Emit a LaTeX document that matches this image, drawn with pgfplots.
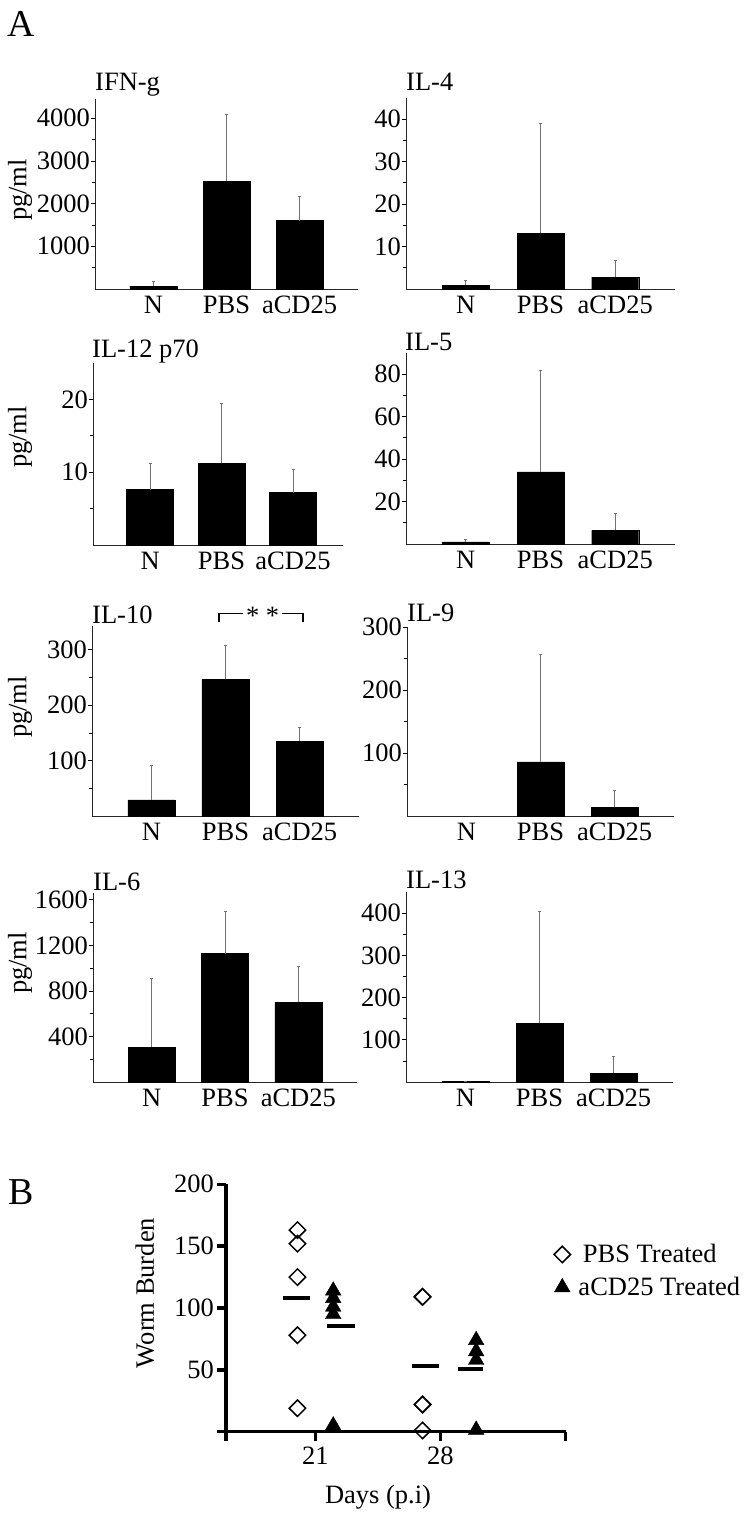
\documentclass[border=0pt]{standalone}
\usepackage{pgfplots}
\pgfplotsset{compat=1.18}
\usepackage{fontspec}
\setmainfont{Liberation Serif}
\pgfplotsset{
  cyto/.style={
    anchor=south west, scale only axis, clip=false,
    axis lines*=left,
    axis line style={line width=0.9pt, black!85},
    xmin=-0.8, xmax=2.8, ymin=0,
    xtick={0,1,2}, xticklabels={N,PBS,aCD25},
    tick align=outside,
    major tick length=4pt, minor tick length=3pt,
    tick style={line width=0.8pt, black},
    major x tick style={draw=none},
    scaled y ticks=false,
    /pgf/number format/assume math mode=true,
    /pgf/number format/1000 sep={},
    yticklabel style={inner xsep=1pt},
    xticklabel style={inner ysep=3pt},
    ybar, bar width=47pt,
  },
  barp/.style={fill=black, draw=black,
    error bars/.cd, y dir=plus, y explicit,
    error bar style={line width=1pt, black!55},
    error mark=-, error mark options={rotate=90, line width=1pt, black!55, mark size=1.5pt}},
}
\begin{document}
\begin{tikzpicture}[font=\fontsize{26.5}{31}\selectfont]
\useasboundingbox (0,0) rectangle (747pt,-1517pt);

% panel letters
\node[inner sep=0pt] at (21pt,-24pt) {\fontsize{38}{42}\selectfont A};
\node[inner sep=0pt] at (21pt,-1192pt) {\fontsize{38}{42}\selectfont B};

% y labels pg/ml
\node[rotate=90, inner sep=0pt] at (20pt,-190pt) {pg/ml};
\node[rotate=90, inner sep=0pt] at (20pt,-437pt) {pg/ml};
\node[rotate=90, inner sep=0pt] at (20pt,-707pt) {pg/ml};
\node[rotate=90, inner sep=0pt] at (20pt,-963pt) {pg/ml};

% panel titles
\node[anchor=base west, inner sep=0pt] at (95pt,-91pt) {IFN-g};
\node[anchor=base west, inner sep=0pt] at (406pt,-91pt) {IL-4};
\node[anchor=base west, inner sep=0pt] at (92pt,-357pt) {IL-12 p70};
\node[anchor=base west, inner sep=0pt] at (405pt,-350pt) {IL-5};
\node[anchor=base west, inner sep=0pt] at (92pt,-623pt) {IL-10};
\node[anchor=base west, inner sep=0pt] at (407pt,-621pt) {IL-9};
\node[anchor=base west, inner sep=0pt] at (93pt,-890pt) {IL-6};
\node[anchor=base west, inner sep=0pt] at (406pt,-888pt) {IL-13};

% IFN-g
\begin{axis}[cyto, at={(95pt,-289pt)}, width=263pt, height=190pt,
  ymax=4450, ytick={1000,2000,3000,4000}, minor ytick={500,1500,2500,3500}]
\addplot[barp] coordinates {(0,70) +- (0,100) (1,2525) +- (0,1553) (2,1600) +- (0,570)};
\end{axis}

% IL-4
\begin{axis}[cyto, at={(406pt,-289pt)}, width=269pt, height=191pt,
  ymax=45, ytick={10,20,30,40}, minor ytick={5,15,25,35}]
\addplot[barp] coordinates {(0,0.9) +- (0,1.0) (1,13.1) +- (0,26) (2,2.8) +- (0,3.8)};
\end{axis}

% IL-12 p70
\begin{axis}[cyto, at={(93pt,-545pt)}, width=250pt, height=182pt, xmax=2.7,
  ymax=25, ytick={10,20}, minor ytick={5,15}]
\addplot[barp] coordinates {(0,7.6) +- (0,3.6) (1,11.2) +- (0,8.3) (2,7.2) +- (0,3.2)};
\end{axis}

% IL-5
\begin{axis}[cyto, at={(406pt,-544pt)}, width=269pt, height=191pt,
  ymax=90, ytick={20,40,60,80}, minor ytick={10,30,50,70}]
\addplot[barp] coordinates {(0,1.0) +- (0,1.2) (1,34) +- (0,47.6) (2,6.4) +- (0,8.2)};
\end{axis}

% IL-10
\begin{axis}[cyto, at={(92pt,-816pt)}, width=267pt, height=190pt,
  ymax=343, ytick={100,200,300}, minor ytick={50,150,250}]
\addplot[barp] coordinates {(0,29) +- (0,63) (1,247) +- (0,60) (2,135) +- (0,24)};
\draw[line width=1.2pt] (axis cs:0.912,351) -- (axis cs:0.912,366) -- (axis cs:2.045,366) -- (axis cs:2.045,351);
\node[fill=white, inner sep=3pt] at (axis cs:1.5,362) {* *};
\end{axis}

% IL-9
\begin{axis}[cyto, at={(407pt,-816pt)}, width=267pt, height=189pt,
  ymax=300, ytick={100,200,300}, minor ytick={50,150,250}]
\addplot[barp] coordinates {(1,86) +- (0,171) (2,14) +- (0,26)};
\end{axis}

% IL-6
\begin{axis}[cyto, at={(93pt,-1082pt)}, width=264pt, height=189pt,
  ymax=1660, ytick={400,800,1200,1600}, minor ytick={200,600,1000,1400}]
\addplot[barp] coordinates {(0,306) +- (0,600) (1,1128) +- (0,367) (2,702) +- (0,309)};
\end{axis}

% IL-13
\begin{axis}[cyto, at={(406pt,-1082pt)}, width=267pt, height=190pt,
  ymax=450, ytick={100,200,300,400}, minor ytick={50,150,250,350}]
\addplot[barp] coordinates {(0,1.5) +- (0,0) (1,139) +- (0,265) (2,21) +- (0,39)};
\end{axis}

% Panel B
\begin{axis}[at={(226pt,-1431.7pt)}, anchor=south west, scale only axis,
  width=339.5pt, height=247.4pt, clip=false,
  xmin=16, xmax=35, ymin=0, ymax=200,
  axis lines*=left, axis line style={line width=3.5pt},
  xtick={16,21,28,35}, xticklabels={,21,28,},
  ytick={0,50,100,150,200}, yticklabels={,50,100,150,200},
  tick align=outside, major tick length=9pt,
  tick style={line width=3.5pt, black},
  yticklabel style={inner xsep=3pt}, xticklabel style={inner ysep=6pt},
  legend style={at={(axis cs:34.35,130)}, anchor=west, draw=none, fill=none,
    row sep=9pt, inner sep=0pt, column sep=6pt},
  legend cell align=left,
]
\addplot[forget plot, line width=4pt] coordinates {(19.2,108.4) (20.7,108.4)};
\addplot[forget plot, line width=4pt] coordinates {(21.65,85.7) (23.2,85.7)};
\addplot[forget plot, line width=4pt] coordinates {(26.4,53) (27.9,53)};
\addplot[forget plot, line width=4pt] coordinates {(29.0,50.3) (30.4,50.3)};
\addplot[only marks, mark=square, mark size=5.8pt,
  mark options={rotate=45, line width=1.5pt, fill=white}]
  coordinates {(20,163) (20,152) (20,125) (20,78) (20,19)
               (27,109) (27,109) (27,22) (27,22) (27,1)};
\addlegendentry{\,PBS Treated}
\addplot[only marks, mark=triangle*, mark size=9pt, mark options={fill=black}]
  coordinates {(22,114) (22,108) (22,101) (22,95) (22,5)
               (30,74) (30,65) (30,58) (30,1.5)};
\addlegendentry{aCD25 Treated}
\end{axis}
\node at (145pt,-1293pt) [rotate=90] {Worm Burden};
\node at (378pt,-1497pt) {Days (p.i)};
\end{tikzpicture}
\end{document}
